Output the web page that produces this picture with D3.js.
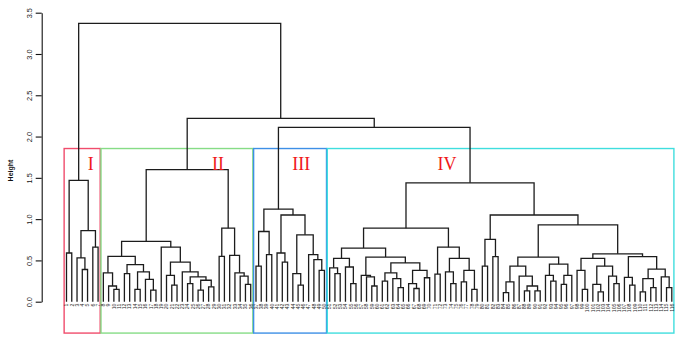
<!DOCTYPE html>
<html>
<head>
<meta charset="utf-8">
<script src="https://cdn.jsdelivr.net/npm/d3@7"></script>
<style>
  body { margin: 0; background: #fff; }
  svg { display: block; }
</style>
</head>
<body>
<div id="viz"></div>
<script>
// each node: [merge height, left, right]; leaves are label strings
const clusterI = [1.47, [0.59, '1', '2'], [0.86, [0.53, '3', [0.39, '4', '5']], [0.66, '6', '7']]]

const clusterII = [1.60,
    [0.73,
        [0.55,
            [0.35, '8', [0.19, '9', [0.15, '10', '11']]],
            [0.45, [0.34, '12', '13'], [0.36, [0.15, '14', '15'], [0.27, '16', [0.14, '17', '18']]]]],
        [0.66, '19',
            [0.48, [0.32, '20', [0.2, '21', '22']],
                [0.36, '23', [0.3, [0.22, '24', '25'], [0.26, [0.14, '26', '27'], [0.18, '28', '29']]]]]]],
    [0.89, [0.55, '30', '31'], [0.56, '32', [0.35, '33', [0.31, '34', [0.21, '35', '36']]]]]]

const clusterIII = [1.12,
    [0.85, [0.43, '37', '38'], [0.57, '39', '40']],
    [1.05, [0.59, '41', [0.48, '42', '43']],
        [0.81, [0.34, '44', [0.2, '45', '46']], [0.57, '47', [0.51, '48', [0.38, '49', '50']]]]]]

const clusterIV = [1.44,
    [0.89,
        [0.65,
            [0.525, [0.41, '51', [0.34, '52', '53']], [0.42, '54', [0.22, '55', '56']]],
            [0.54, [0.32, '57', [0.3, '58', [0.19, '59', '60']]],
                [0.47, [0.35, [0.25, '61', '62'], [0.28, '63', [0.17, '64', '65']]],
                    [0.38, [0.22, '66', [0.16, '67', '68']], [0.29, '69', '70']]]]],
        [0.66, [0.335, '71', '72'],
            [0.525, [0.36, '73', [0.22, '74', '75']], [0.38, [0.24, '76', '77'], [0.15, '78', '79']]]]],
    [1.05,
        [0.755, [0.43, '80', '81'], [0.545, '82', '83']],
        [0.93,
            [0.54,
                [0.43, [0.24, [0.11, '84', '85'], '86'], [0.31, '87', [0.19, [0.13, '88', '89'], [0.13, '90', '91']]]],
                [0.455, [0.32, '92', [0.25, '93', '94']], [0.32, [0.21, '95', '96'], '97']]],
            [0.58,
                [0.525, [0.38, '98', [0.15, '99', '100']],
                    [0.43, [0.21, '101', [0.12, '102', '103']], [0.31, '104', [0.22, '105', '106']]]],
                [0.545, [0.295, '107', [0.2, '108', '109']],
                    [0.395, [0.28, [0.12, '110', '111'], [0.17, '112', '113']], [0.3, '114', [0.17, '115', '116']]]]]]]]

// upper merges
const rootHeight = 3.37,
    heightIIrest = 2.22,
    heightIIIIV = 2.11

const clusterNames = ['I', 'II', 'III', 'IV']
const clusterColors = ['#f04c6c', '#86dc86', '#3d8fe6', '#40dede']
// where the numerals sit, in leaf units
const numeralAt = [4.6, 28.8, 44.6, 72.3]

const yTicks = [0, 0.5, 1, 1.5, 2, 2.5, 3, 3.5]

const width = 685,
    height = 338

const svg = d3.select('#viz').append('svg')
    .attr('width', width)
    .attr('height', height)
    .attr('viewBox', [0, 0, width, height])

svg.append('rect').attr('width', width).attr('height', height).attr('fill', '#fff')

const treeData = [rootHeight, clusterI, [heightIIrest, clusterII, [heightIIIIV, clusterIII, clusterIV]]]

const root = d3.hierarchy(treeData, d => Array.isArray(d) ? d.slice(1) : null)
const leaves = root.leaves()

const x = d3.scaleLinear()
    .domain([0, leaves.length - 1])
    .range([66.5, 671.8])

const y = d3.scaleLinear()
    .domain([0, 3.5])
    .range([301.7, 12.7])

leaves.forEach((d, i) => { d.idx = i })
root.eachAfter(d => {
    d.h = Array.isArray(d.data) ? d.data[0] : 0
    d.idx = d.children ? d3.mean(d.children, c => c.idx) : d.idx
})

// cluster boxes
const cutHeight = d3.mean([heightIIIIV, d3.max([clusterI, clusterII, clusterIII, clusterIV], c => c[0])])
const clusterNodes = [root.children[0], root.children[1].children[0],
    root.children[1].children[1].children[0], root.children[1].children[1].children[1]]

const boxes = clusterNodes.map((node, i) => {
    const lv = node.leaves()
    return {
        name: clusterNames[i],
        color: clusterColors[i],
        first: lv[0].idx,
        last: lv[lv.length - 1].idx,
        at: numeralAt[i]
    }
})

svg.append('g').selectAll('rect').data(boxes)
    .enter()
    .append('rect')
    .attr('x', d => x(d.first - 0.45))
    .attr('y', y(cutHeight))
    .attr('width', d => x(d.last + 0.4) - x(d.first - 0.45))
    .attr('height', y(-0.38) - y(cutHeight))
    .attr('fill', 'none')
    .attr('stroke', d => d.color)
    .attr('stroke-width', 1.4)

// dendrogram
svg.append('g').selectAll('path').data(root.descendants().filter(d => d.children))
    .enter()
    .append('path')
    .attr('d', d => {
        const [l, r] = d.children
        return `M${x(l.idx)},${y(l.h)}V${y(d.h)}H${x(r.idx)}V${y(r.h)}`
    })
    .attr('fill', 'none')
    .attr('stroke', '#1c1c1c')
    .attr('stroke-width', 1.3)

// leaf labels
svg.append('g').selectAll('text').data(leaves)
    .enter()
    .append('text')
    .attr('transform', d => `translate(${x(d.idx) + 1.8}, 303.5) rotate(-90)`)
    .attr('text-anchor', 'end')
    .style('font', '5.2px "Liberation Sans", Arial, sans-serif')
    .attr('fill', '#2a2a2a')
    .text(d => d.data)

// roman numerals
svg.append('g').selectAll('text').data(boxes)
    .enter()
    .append('text')
    .attr('x', d => x(d.at))
    .attr('y', 169.5)
    .attr('text-anchor', 'middle')
    .style('font', '18px "Liberation Serif", "Times New Roman", serif')
    .attr('fill', '#f01818')
    .text(d => d.name)

// y axis
const yAxisG = svg.append('g')
    .attr('transform', 'translate(41.7, 0)')
    .call(d3.axisLeft(y).tickValues(yTicks).tickFormat(d3.format('.1f')).tickSize(6).tickSizeOuter(0))

yAxisG.select('.domain').attr('stroke', '#111').attr('stroke-width', 1.1)
yAxisG.selectAll('.tick line').attr('stroke', '#111').attr('stroke-width', 1.1)
yAxisG.selectAll('.tick text')
    .attr('transform', 'rotate(-90)')
    .attr('x', 0)
    .attr('y', -9.4)
    .attr('dy', 0)
    .attr('text-anchor', 'middle')
    .style('font', '7.4px "Liberation Sans", Arial, sans-serif')
    .attr('fill', '#111')

svg.append('text')
    .attr('transform', 'translate(12.6, 170.5) rotate(-90)')
    .attr('text-anchor', 'middle')
    .style('font', 'bold 7px "Liberation Sans", Arial, sans-serif')
    .attr('fill', '#111')
    .text('Height')
</script>
</body>
</html>
